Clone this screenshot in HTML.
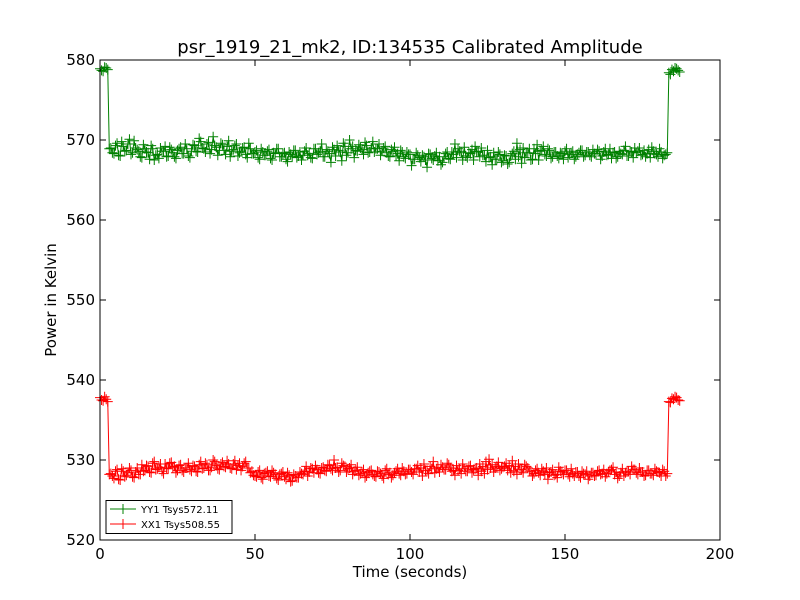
<!DOCTYPE html>
<html><head><meta charset="utf-8"><style>
body{margin:0;background:#fff;}
svg{display:block;font-family:"DejaVu Sans","Liberation Sans",sans-serif;}
</style></head><body>
<svg id="chart" width="800" height="600">
<rect x="0" y="0" width="800" height="600" fill="#fff"/>
<text x="410" y="53" text-anchor="middle" font-size="18">psr_1919_21_mk2, ID:134535 Calibrated Amplitude</text>
<g id="series"></g>
<g id="axes"></g>
<text x="410" y="577" text-anchor="middle" font-size="15">Time (seconds)</text>
<text x="0" y="0" transform="translate(56,300) rotate(-90)" text-anchor="middle" font-size="15">Power in Kelvin</text>
<g>
<rect x="106" y="500.5" width="126" height="33" fill="#fff" stroke="#000" stroke-width="1"/>
<g>
<line x1="110" y1="509" x2="136" y2="509" stroke="green"/>
<line x1="123" y1="504" x2="123" y2="514" stroke="green"/>
<text x="141" y="513" font-size="10">YY1 Tsys572.11</text></g>
<g>
<line x1="110" y1="524" x2="136" y2="524" stroke="red"/>
<line x1="123" y1="519" x2="123" y2="529" stroke="red"/>
<text x="141" y="528" font-size="10">XX1 Tsys508.55</text></g>
</g>
</svg>
<script>
// samples at whole seconds (t = index)
const yyValues=[578.9,578.6,579.0,568.9,568.4,569.3,568.1,569.8,568.6,569.5,
568.2,569.9,568.8,567.9,569.4,568.5,567.6,568.9,568.1,567.7,
568.6,569.2,568.0,568.8,567.9,568.7,569.1,568.3,568.9,567.8,
569.4,568.6,570.2,569.0,568.5,569.7,568.8,569.3,568.1,569.6,
568.7,569.2,567.9,568.8,569.5,568.4,569.0,568.2,569.6,568.3,
568.5,567.8,568.9,568.1,568.6,567.7,568.4,568.9,567.9,568.3,
567.6,568.5,567.9,568.7,568.0,567.5,568.6,568.1,567.8,568.9,
568.2,568.6,567.9,568.8,568.3,569.1,568.0,568.7,567.4,569.2,
568.4,568.9,567.8,568.6,569.0,568.2,569.3,568.5,569.8,568.9,
569.5,568.6,569.2,568.0,568.8,569.1,568.3,568.7,567.9,568.5,
568.2,567.6,568.4,567.8,568.1,567.5,568.3,567.7,568.0,567.4,
566.9,567.9,568.5,567.6,568.2,567.8,568.6,567.5,568.0,568.4,
568.8,569.2,568.5,569.0,568.1,568.7,567.9,568.4,567.6,568.2,
567.4,568.0,567.2,568.3,567.6,567.9,567.1,567.8,568.4,567.5,
568.9,569.4,568.6,569.2,568.0,568.7,567.9,568.5,567.7,568.3,
568.6,567.8,568.4,567.6,568.2,568.7,567.9,568.5,568.1,568.8,
568.3,568.6,568.0,568.9,568.2,567.7,568.5,567.9,568.3,568.7,
568.0,568.6,567.8,568.4,569.0,568.2,567.9,568.8,569.1,568.3,
567.9,568.5,568.1,568.4,578.2,578.6,578.9,578.5];
const xxValues=[537.8,537.4,537.6,528.2,528.0,528.6,527.6,528.9,527.9,528.4,
528.7,527.8,529.0,528.2,528.6,529.3,528.5,529.6,528.8,529.1,
528.6,529.5,528.9,529.7,529.2,528.7,529.4,528.5,529.0,528.8,
529.3,528.6,529.4,528.9,529.6,528.7,529.1,529.8,528.9,529.5,
529.2,529.9,529.0,529.5,528.8,529.6,529.2,529.8,529.0,528.6,
528.0,528.5,527.8,528.3,528.6,527.9,528.4,527.7,528.2,528.5,
527.6,528.1,527.4,528.0,527.8,528.3,528.6,528.0,529.0,528.4,
528.8,528.3,529.1,528.6,529.3,528.7,529.0,528.5,529.6,529.2,
528.9,529.4,528.6,529.1,528.3,528.8,528.0,528.6,528.2,527.9,
528.5,528.0,528.7,528.2,527.8,528.4,528.9,528.1,528.6,528.3,
528.8,528.2,528.9,528.5,528.0,528.7,528.3,528.9,528.4,529.1,
529.4,528.8,529.6,529.0,528.7,529.3,528.9,529.5,528.6,529.2,
528.4,528.9,528.1,528.6,528.3,528.8,529.0,528.5,529.2,528.7,
529.1,529.6,529.3,529.9,529.2,529.5,528.8,529.4,529.0,528.6,
528.3,528.9,528.1,528.6,529.0,528.4,528.8,528.2,529.1,528.5,
528.7,528.2,528.9,528.0,528.5,527.8,528.3,528.6,528.0,528.4,
528.1,528.7,528.3,527.9,528.5,528.8,528.2,527.7,528.4,528.0,
528.6,528.2,528.8,528.4,529.0,528.5,528.1,528.7,528.3,528.9,
528.5,528.0,528.6,528.3,537.2,537.6,537.8,537.4];
// samples at half seconds (t = index + 0.5)
const yyValuesHalf=[578.7,579.1,578.8,
569.0,568.3,569.6,568.0,569.2,568.7,570.1,568.4,569.0,568.6,
567.8,568.9,568.4,569.3,567.5,568.2,569.0,568.6,567.9,569.1,
568.4,567.7,568.9,568.3,569.5,568.0,568.6,569.3,568.5,569.8,
568.9,569.5,568.3,570.4,569.1,568.7,569.4,568.2,569.9,568.6,
569.3,568.0,568.6,569.1,567.8,568.9,568.3,568.7,567.6,568.5,
568.1,568.8,567.5,568.3,568.9,567.9,568.4,567.3,568.2,568.7,
567.8,568.5,568.1,569.0,568.3,567.7,568.9,568.4,569.5,567.9,
568.6,567.2,568.8,569.3,568.5,569.6,568.1,570.0,569.2,568.7,
569.4,568.8,569.7,568.4,569.0,568.5,568.9,568.1,569.0,568.4,
567.9,568.6,568.0,567.4,568.5,567.7,568.2,566.8,567.6,568.1,
567.3,567.9,566.6,568.2,567.5,568.4,567.9,567.2,568.3,567.7,
568.5,569.5,568.9,568.4,569.1,567.8,568.3,567.5,568.6,567.9,
568.1,567.3,567.8,566.9,567.6,568.5,567.2,568.1,567.0,568.0,
568.6,569.6,568.8,569.0,568.4,568.9,567.6,568.3,567.5,568.7,
568.2,568.9,567.7,568.5,568.0,568.4,567.6,568.9,568.2,568.6,
567.9,568.4,568.7,568.1,568.5,567.9,568.3,568.8,567.6,568.5,
568.1,568.9,568.4,567.7,568.6,568.2,569.2,568.0,568.5,569.0,
568.6,568.1,568.7,568.3,567.8,568.6,568.2,568.9,567.7,568.2,
578.4,578.8,579.0,578.7];
const xxValuesHalf=[537.5,537.9,537.3,
528.3,527.7,528.8,527.5,528.6,528.1,529.0,527.9,528.5,528.2,
529.4,528.7,529.2,528.4,529.8,528.9,529.5,528.3,529.0,529.6,
529.1,528.4,529.3,528.7,529.0,529.6,528.6,529.2,528.5,529.8,
529.0,529.4,528.7,530.0,529.3,528.8,529.7,529.1,529.5,528.9,
529.9,529.3,528.7,529.6,529.0,528.4,528.1,527.9,528.7,527.6,
528.4,528.0,528.7,528.2,527.5,528.3,527.9,528.4,527.3,528.2,
527.8,528.5,528.2,529.2,528.5,528.9,529.3,528.4,529.0,528.7,
529.4,528.9,530.0,529.1,528.7,529.3,528.5,529.0,528.2,528.7,
528.1,528.5,527.8,528.4,528.7,528.0,528.6,528.3,527.7,528.9,
528.4,528.1,528.6,528.3,529.0,528.2,528.8,528.5,528.9,529.3,
529.0,529.5,528.7,529.2,529.8,528.9,528.5,529.1,528.8,529.4,
528.6,528.1,528.7,528.3,528.9,528.6,529.3,528.8,529.0,529.5,
529.2,529.8,530.1,529.4,529.0,529.7,528.9,529.2,528.7,528.4,
528.6,528.2,528.8,528.4,529.2,528.6,528.0,528.7,528.4,528.9,
528.2,527.6,528.5,528.1,527.8,528.6,528.2,528.7,527.9,528.3,
528.5,528.0,528.6,528.2,527.6,528.4,528.0,528.6,528.2,528.8,
528.3,528.7,529.1,528.5,528.0,528.9,528.4,528.6,529.2,528.8,
528.2,528.5,528.0,528.7,528.3,528.1,528.6,528.4,528.8,528.0,
537.3,537.7,537.9,537.5];
const xTicks=[0,50,100,150,200];
const yTicks=[520,530,540,550,560,570,580];

const X0=100,X1=720,Y0=540,Y1=60;
const xMin=0,xMax=200,yMin=520,yMax=580;
const sx=v=>X0+(v-xMin)/(xMax-xMin)*(X1-X0);
const sy=v=>Y0-(v-yMin)/(yMax-yMin)*(Y0-Y1);
const NS="http://www.w3.org/2000/svg";
function mk(tag,attrs,parent){const e=document.createElementNS(NS,tag);for(const k in attrs)e.setAttribute(k,attrs[k]);parent.appendChild(e);return e;}
const series=document.getElementById('series');
function merge(whole,half){
  const pts=[];
  whole.forEach((v,i)=>pts.push([i,v]));
  half.forEach((v,i)=>pts.push([i+0.5,v]));
  pts.sort((a,b)=>a[0]-b[0]);
  return pts;
}
function drawSeries(pts,color,name){
  const g=mk('g',{},series);
  
  
  const p=pts.map(q=>sx(q[0])+','+sy(q[1])).join(' ');
  const line=mk('polyline',{points:p,fill:'none',stroke:color,'stroke-width':1},g);
  
  
  let d='';
  pts.forEach(q=>{const x=sx(q[0]),y=sy(q[1]);d+=`M${x-5},${y}h10M${x},${y-5}v10`;});
  const m=mk('path',{d:d,stroke:color,'stroke-width':1,fill:'none'},g);
  
  
}
drawSeries(merge(yyValues,yyValuesHalf),'green','series-yy1');
drawSeries(merge(xxValues,xxValuesHalf),'red','series-xx1');
const axes=document.getElementById('axes');
const frame=mk('rect',{x:X0,y:Y1,width:X1-X0,height:Y0-Y1,fill:'none',stroke:'#000','stroke-width':1},axes);


xTicks.forEach(t=>{
  const x=sx(t);
  mk('line',{x1:x,y1:Y0,x2:x,y2:Y0-6,stroke:'#000'},axes);
  mk('line',{x1:x,y1:Y1,x2:x,y2:Y1+6,stroke:'#000'},axes);
  const tx=mk('text',{x:x,y:Y0+19,'text-anchor':'middle','font-size':15},axes);
  tx.textContent=t;
  
  
});
yTicks.forEach(t=>{
  const y=sy(t);
  mk('line',{x1:X0,y1:y,x2:X0+6,y2:y,stroke:'#000'},axes);
  mk('line',{x1:X1,y1:y,x2:X1-6,y2:y,stroke:'#000'},axes);
  const ty=mk('text',{x:X0-5,y:y+5,'text-anchor':'end','font-size':15},axes);
  ty.textContent=t;
  
  
});
</script>
</body></html>
